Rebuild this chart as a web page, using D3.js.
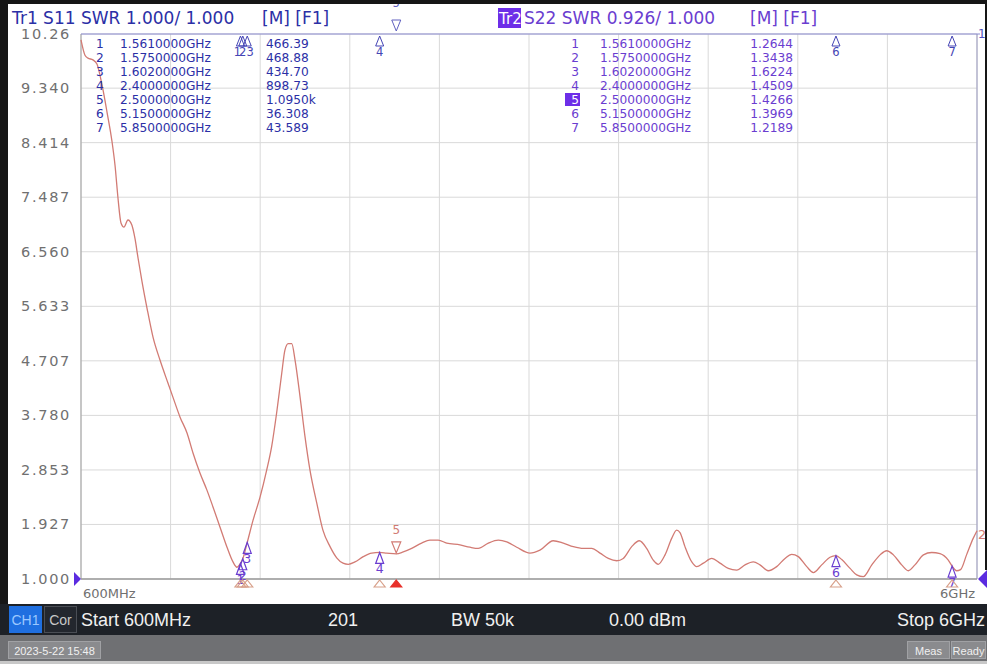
<!DOCTYPE html>
<html>
<head>
<meta charset="utf-8">
<script src="https://cdn.jsdelivr.net/npm/d3@7"></script>
<style>
  body { margin: 0; background: #fff; }
  svg { display: block; }
</style>
</head>
<body>
<svg id="vna" width="987" height="664"></svg>
<script>
// S22 trace (Tr2)
const freqGHz = [0.600, 0.624, 0.642, 0.672, 0.696, 0.727, 0.757, 0.787, 0.805, 0.823, 0.841, 0.859, 0.883, 0.907,
  0.925, 0.944, 0.968, 0.998, 1.034, 1.076, 1.124, 1.154, 1.197, 1.239, 1.275, 1.317, 1.359, 1.396, 1.438, 1.480,
  1.516, 1.540, 1.561, 1.575, 1.602, 1.637, 1.679, 1.719, 1.749, 1.779, 1.810, 1.829, 1.849, 1.870, 1.890, 1.920,
  1.950, 1.980, 2.021, 2.058, 2.101, 2.141, 2.179, 2.211, 2.251, 2.301, 2.352, 2.400, 2.442, 2.500, 2.542, 2.593,
  2.653, 2.703, 2.753, 2.804, 2.884, 2.944, 2.994, 3.055, 3.115, 3.166, 3.226, 3.306, 3.366, 3.446, 3.507, 3.567,
  3.627, 3.678, 3.728, 3.778, 3.829, 3.868, 3.919, 3.965, 4.009, 4.049, 4.079, 4.120, 4.160, 4.190, 4.210, 4.240,
  4.281, 4.311, 4.351, 4.401, 4.451, 4.501, 4.552, 4.602, 4.652, 4.692, 4.742, 4.793, 4.843, 4.883, 4.923, 4.974,
  5.014, 5.064, 5.114, 5.150, 5.185, 5.235, 5.275, 5.315, 5.366, 5.416, 5.456, 5.496, 5.546, 5.586, 5.626, 5.677,
  5.727, 5.777, 5.827, 5.850, 5.877, 5.901, 5.937, 5.977, 6.000];
const swr = [10.16, 9.90, 9.85, 9.82, 9.75, 9.39, 8.93, 8.43, 8.03, 7.47, 7.05, 6.98, 7.10, 7.01,
  6.79, 6.45, 6.05, 5.60, 5.11, 4.72, 4.33, 4.09, 3.75, 3.48, 3.14, 2.80, 2.51, 2.22, 1.88, 1.54,
  1.29, 1.20, 1.264, 1.344, 1.622, 2.00, 2.39, 2.85, 3.25, 3.82, 4.50, 4.89, 5.00, 5.00, 4.72, 4.10,
  3.42, 2.85, 2.29, 1.83, 1.55, 1.36, 1.27, 1.25, 1.29, 1.38, 1.44, 1.451, 1.44, 1.427, 1.46, 1.52,
  1.61, 1.66, 1.66, 1.61, 1.58, 1.54, 1.52, 1.61, 1.66, 1.63, 1.54, 1.44, 1.49, 1.65, 1.61, 1.55,
  1.52, 1.52, 1.44, 1.35, 1.31, 1.35, 1.55, 1.65, 1.52, 1.32, 1.25, 1.41, 1.69, 1.83, 1.79, 1.55,
  1.29, 1.21, 1.27, 1.35, 1.27, 1.18, 1.15, 1.24, 1.29, 1.24, 1.14, 1.21, 1.35, 1.42, 1.38, 1.21,
  1.11, 1.24, 1.37, 1.397, 1.33, 1.18, 1.07, 1.04, 1.24, 1.41, 1.48, 1.41, 1.24, 1.14, 1.24, 1.41,
  1.45, 1.43, 1.32, 1.219, 1.14, 1.16, 1.41, 1.69, 1.82];

const yTickLabels = ["10.26", "9.340", "8.414", "7.487", "6.560", "5.633", "4.707", "3.780", "2.853", "1.927", "1.000"];

const markerNums = [1, 2, 3, 4, 5, 6, 7];
const markerFreqs = [1.561, 1.575, 1.602, 2.4, 2.5, 5.15, 5.85];
const markerFreqLabels = ["1.5610000GHz", "1.5750000GHz", "1.6020000GHz", "2.4000000GHz", "2.5000000GHz", "5.1500000GHz", "5.8500000GHz"];
const tr1Readouts = ["466.39", "468.88", "434.70", "898.73", "1.0950k", "36.308", "43.589"];
const tr2Values = [1.2644, 1.3438, 1.6224, 1.4509, 1.4266, 1.3969, 1.2189];
const activeMarker = 5;

const svg = d3.select("#vna");
const W = +svg.attr("width");

const traceCol = "#d27b74";
const tr1Col = "#2b2fa6";
const tr2Col = "#6a3dd0";

const x = d3.scaleLinear().domain([0.6, 6]).range([81, 977]);
const y = d3.scaleLinear().domain([1.0, 10.26]).range([579, 34]);

const sans = "DejaVu Sans, Verdana, sans-serif";
const arial = "Liberation Sans, Arial, sans-serif";

// grid
const xGrid = d3.range(11).map(i => 0.6 + i * 0.54);
svg.append("g").selectAll("line").data(xGrid).join("line")
  .attr("x1", d => x(d)).attr("x2", d => x(d)).attr("y1", y(10.26)).attr("y2", y(1))
  .attr("stroke", "#d9d9d9");
svg.append("g").selectAll("line").data(yTickLabels).join("line")
  .attr("x1", x(0.6)).attr("x2", x(6)).attr("y1", d => y(+d)).attr("y2", d => y(+d))
  .attr("stroke", "#d9d9d9");

// frame
svg.append("line").attr("x1", x(0.6)).attr("x2", x(0.6)).attr("y1", y(10.26)).attr("y2", y(1)).attr("stroke", "#a0a0a0");
svg.append("line").attr("x1", x(6)).attr("x2", x(6)).attr("y1", y(10.26)).attr("y2", y(1)).attr("stroke", "#9a9ac0");
svg.append("line").attr("x1", x(0.6)).attr("x2", x(6) + 3).attr("y1", y(10.26)).attr("y2", y(10.26)).attr("stroke", "#8a8ad0");
svg.append("line").attr("x1", x(0.6)).attr("x2", x(6)).attr("y1", y(1)).attr("y2", y(1)).attr("stroke", "#9a9a9a").attr("stroke-width", 1.5);

// y labels
svg.append("g").selectAll("text").data(yTickLabels).join("text")
  .attr("x", 71).attr("y", d => y(+d) + 5)
  .attr("text-anchor", "end").attr("font-family", sans).attr("font-size", 14.5)
  .attr("letter-spacing", 1.7).attr("fill", "#707070")
  .text(d => d);

svg.append("text").attr("x", 83).attr("y", 598).attr("font-family", sans).attr("font-size", 13).attr("fill", "#707070").text("600MHz");
svg.append("text").attr("x", 975).attr("y", 598).attr("text-anchor", "end").attr("font-family", sans).attr("font-size", 13).attr("fill", "#707070").text("6GHz");

// reference pointers
svg.append("path").attr("d", `M${x(0.6) - 7},${y(1) - 7}L${x(0.6)},${y(1)}L${x(0.6) - 7},${y(1) + 7}Z`).attr("fill", "#5b2be0");
svg.append("path").attr("d", `M${W},${y(1) - 9}L${x(6) + 1},${y(1)}L${W},${y(1) + 9}Z`).attr("fill", "#5b2be0");

// trace
const pts = freqGHz.map((f, i) => [f, swr[i]]);
svg.append("path").datum(pts)
  .attr("d", d3.line().x(d => x(d[0])).y(d => y(d[1])).curve(d3.curveMonotoneX))
  .attr("fill", "none").attr("stroke", traceCol).attr("stroke-width", 1.3);

// trace end labels
svg.append("text").attr("x", 978).attr("y", 38).attr("font-family", sans).attr("font-size", 12).attr("fill", "#5050c0").text("1");
svg.append("text").attr("x", 978).attr("y", y(1.82) + 8).attr("font-family", sans).attr("font-size", 13).attr("fill", traceCol).text("2");

// header
svg.append("text").attr("x", 12).attr("y", 24).attr("font-family", sans).attr("font-size", 17).attr("fill", tr1Col).text("Tr1 S11 SWR 1.000/ 1.000");
svg.append("text").attr("x", 262).attr("y", 24).attr("font-family", sans).attr("font-size", 17).attr("fill", tr1Col).text("[M] [F1]");
svg.append("rect").attr("x", 498).attr("y", 8).attr("width", 23).attr("height", 20).attr("fill", "#6d2ee8");
svg.append("text").attr("x", 499).attr("y", 24).attr("font-family", sans).attr("font-size", 15).attr("fill", "#fff").text("Tr2");
svg.append("text").attr("x", 524).attr("y", 24).attr("font-family", sans).attr("font-size", 17).attr("fill", tr2Col).text("S22 SWR 0.926/ 1.000");
svg.append("text").attr("x", 750).attr("y", 24).attr("font-family", sans).attr("font-size", 17).attr("fill", tr2Col).text("[M] [F1]");

// marker readout tables
const rowY = i => 48 + i * 14;
const tbl = svg.append("g").attr("font-family", sans).attr("font-size", 12.2);
markerNums.forEach((m, i) => {
  tbl.append("text").attr("x", 96).attr("y", rowY(i)).attr("fill", tr1Col).text(m);
  tbl.append("text").attr("x", 120).attr("y", rowY(i)).attr("fill", tr1Col).text(markerFreqLabels[i]);
  tbl.append("text").attr("x", 266).attr("y", rowY(i)).attr("fill", tr1Col).text(tr1Readouts[i]);

  if (m === activeMarker) {
    tbl.append("rect").attr("x", 565).attr("y", rowY(i) - 11).attr("width", 15).attr("height", 13).attr("fill", "#6d2ee8");
  }
  tbl.append("text").attr("x", 579).attr("y", rowY(i)).attr("text-anchor", "end")
    .attr("fill", m === activeMarker ? "#fff" : tr2Col).text(m);
  tbl.append("text").attr("x", 600).attr("y", rowY(i)).attr("fill", tr2Col).text(markerFreqLabels[i]);
  tbl.append("text").attr("x", 793).attr("y", rowY(i)).attr("text-anchor", "end").attr("fill", tr2Col).text(tr2Values[i].toFixed(4));
});

// Tr1 markers are off scale (above the top) -> drawn at the top edge
const upTri = (cx, top, w, h) => `M${cx},${top}L${cx + w / 2},${top + h}L${cx - w / 2},${top + h}Z`;
const downTri = (cx, bot, w, h) => `M${cx},${bot}L${cx + w / 2},${bot - h}L${cx - w / 2},${bot - h}Z`;
const mk = svg.append("g").attr("font-family", sans).attr("font-size", 11.5);
markerNums.forEach((m, i) => {
  const cx = x(markerFreqs[i]);
  if (m === activeMarker) {
    mk.append("path").attr("d", downTri(cx, 31, 9, 11)).attr("fill", "#fff").attr("stroke", "#6060c0");
    mk.append("text").attr("x", cx).attr("y", 7).attr("text-anchor", "middle").attr("fill", "#6060c0").text(m);
  } else {
    mk.append("path").attr("d", upTri(cx, 36, 8, 10)).attr("fill", "none").attr("stroke", "#4545b5");
    mk.append("text").attr("x", cx + (m <= 3 ? (m - 2) * 3 : 0)).attr("y", 56).attr("text-anchor", "middle").attr("fill", "#4545b5").text(m);
  }
});

// Tr2 markers on the trace
markerNums.forEach((m, i) => {
  const cx = x(markerFreqs[i]);
  const cy = y(tr2Values[i]);
  if (m === activeMarker) {
    mk.append("path").attr("d", downTri(cx, cy - 1, 9, 11)).attr("fill", "none").attr("stroke", traceCol).attr("stroke-width", 1.2);
    mk.append("text").attr("x", cx).attr("y", cy - 20).attr("text-anchor", "middle").attr("font-size", 12).attr("fill", traceCol).text(m);
  } else {
    mk.append("path").attr("d", upTri(cx, cy, 8, 11)).attr("fill", "none").attr("stroke", tr2Col).attr("stroke-width", 1.2);
    mk.append("text").attr("x", cx).attr("y", cy + 21).attr("text-anchor", "middle").attr("font-size", 12.5).attr("fill", tr2Col).text(m);
  }
  // stimulus indicator below the axis
  mk.append("path").attr("d", upTri(cx, y(1) + 1, 11, 7))
    .attr("fill", m === activeMarker ? "#e8302a" : "none")
    .attr("stroke", m === activeMarker ? "#e8302a" : "#d8a08a").attr("stroke-width", 1.2);
});

// dark screen bezel
svg.append("rect").attr("x", 0).attr("y", 0).attr("width", W).attr("height", 4).attr("fill", "#161616");
svg.append("rect").attr("x", 0).attr("y", 0).attr("width", 8).attr("height", 606).attr("fill", "#161616");
svg.append("rect").attr("x", W - 2).attr("y", 0).attr("width", 2).attr("height", 570).attr("fill", "#161616");

// channel status bar
svg.append("rect").attr("x", 0).attr("y", 604).attr("width", W).attr("height", 31).attr("fill", "#1d2127");
svg.append("rect").attr("x", 9).attr("y", 606).attr("width", 33).attr("height", 27).attr("fill", "#1f6fe0");
svg.append("text").attr("x", 25.5).attr("y", 625).attr("text-anchor", "middle").attr("font-family", arial).attr("font-size", 14).attr("fill", "#9cc8ff").text("CH1");
svg.append("rect").attr("x", 44.5).attr("y", 606.5).attr("width", 32).attr("height", 26).attr("fill", "#23272e").attr("stroke", "#4a4e55");
svg.append("text").attr("x", 60.5).attr("y", 625).attr("text-anchor", "middle").attr("font-family", arial).attr("font-size", 14).attr("fill", "#c8c8c8").text("Cor");

const statusItems = [["Start 600MHz", 81, "start"], ["201", 328, "start"], ["BW 50k", 451, "start"], ["0.00 dBm", 609, "start"], ["Stop 6GHz", 985, "end"]];
statusItems.forEach(s => {
  svg.append("text").attr("x", s[1]).attr("y", 626).attr("text-anchor", s[2])
    .attr("font-family", arial).attr("font-size", 18).attr("fill", "#f0f0f0").text(s[0]);
});

// instrument status bar
svg.append("rect").attr("x", 0).attr("y", 635).attr("width", W).attr("height", 27).attr("fill", "#6f7073");
svg.append("rect").attr("x", 0).attr("y", 661).attr("width", W).attr("height", 3).attr("fill", "#c8c8c8");
svg.append("rect").attr("x", 8.5).attr("y", 641.5).attr("width", 92).attr("height", 17).attr("fill", "#8a8b8e").attr("stroke", "#a0a1a4");
svg.append("text").attr("x", 54.5).attr("y", 654.5).attr("text-anchor", "middle").attr("font-family", arial).attr("font-size", 11).attr("fill", "#f0f0f0").text("2023-5-22 15:48");
svg.append("rect").attr("x", 907.5).attr("y", 641.5).attr("width", 42).attr("height", 17).attr("fill", "#8a8b8e").attr("stroke", "#a0a1a4");
svg.append("text").attr("x", 928.5).attr("y", 654.5).attr("text-anchor", "middle").attr("font-family", arial).attr("font-size", 11).attr("fill", "#f0f0f0").text("Meas");
svg.append("rect").attr("x", 951.5).attr("y", 641.5).attr("width", 34).attr("height", 17).attr("fill", "#8a8b8e").attr("stroke", "#a0a1a4");
svg.append("text").attr("x", 968.5).attr("y", 654.5).attr("text-anchor", "middle").attr("font-family", arial).attr("font-size", 11).attr("fill", "#f0f0f0").text("Ready");
</script>
</body>
</html>
